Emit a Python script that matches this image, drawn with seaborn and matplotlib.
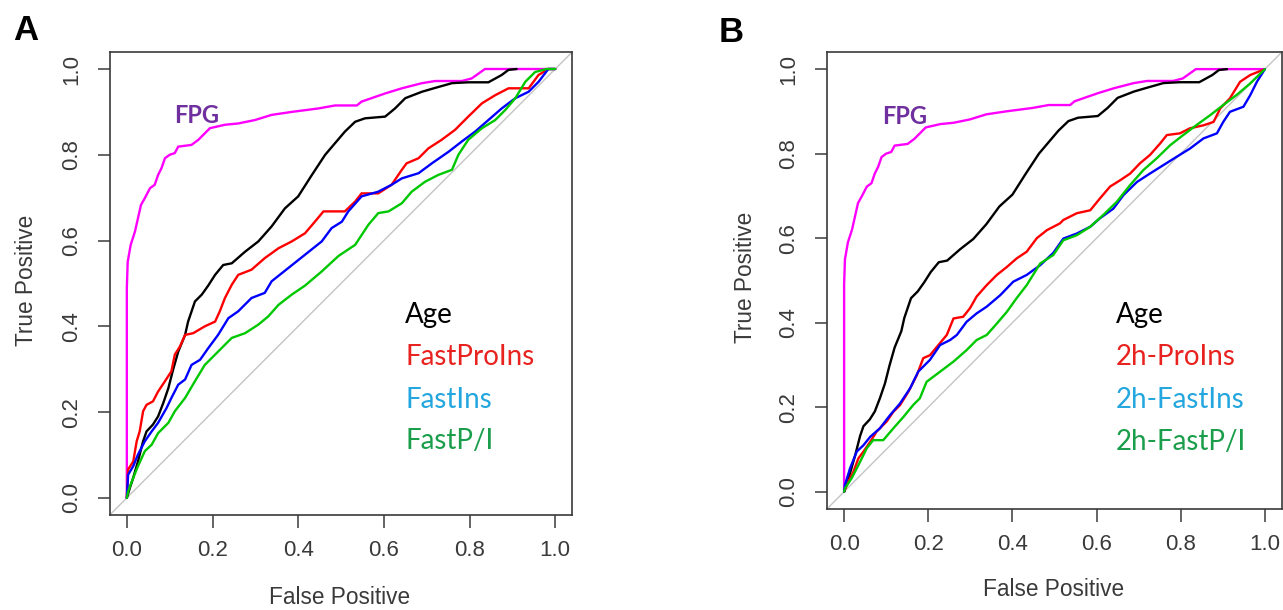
import numpy as np
import pandas as pd
import matplotlib
matplotlib.use("Agg")
import matplotlib.pyplot as plt
import seaborn as sns

# ---- ROC coordinates (false positive rate, true positive rate) ----
fpg_fp = [0, 0, 0.002, 0.009, 0.019, 0.026, 0.033, 0.042, 0.054, 0.065, 0.073, 0.081,
          0.089, 0.100, 0.112, 0.120, 0.151, 0.167, 0.182, 0.194, 0.229, 0.26, 0.299,
          0.338, 0.385, 0.447, 0.486, 0.537, 0.548, 0.603, 0.642, 0.689, 0.72, 0.782,
          0.805, 0.836, 1.0]
fpg_tp = [0, 0.49, 0.55, 0.59, 0.621, 0.652, 0.683, 0.699, 0.722, 0.730, 0.753, 0.769,
          0.792, 0.800, 0.804, 0.819, 0.823, 0.835, 0.850, 0.862, 0.870, 0.873, 0.881,
          0.893, 0.900, 0.908, 0.915, 0.915, 0.924, 0.943, 0.955, 0.967, 0.972, 0.972,
          0.978, 1.0, 1.0]

age_fp = [0, 0.007, 0.015, 0.026, 0.038, 0.046, 0.061, 0.073, 0.085, 0.097, 0.108, 0.120,
          0.136, 0.143, 0.159, 0.175, 0.19, 0.206, 0.225, 0.245, 0.276, 0.307, 0.338,
          0.369, 0.40, 0.432, 0.463, 0.486, 0.509, 0.533, 0.556, 0.603, 0.626, 0.65,
          0.689, 0.72, 0.759, 0.797, 0.844, 0.875, 0.891, 0.91]
age_tp = [0, 0.023, 0.047, 0.085, 0.132, 0.155, 0.171, 0.19, 0.221, 0.256, 0.299, 0.341,
          0.380, 0.411, 0.458, 0.474, 0.495, 0.520, 0.543, 0.547, 0.574, 0.598, 0.633,
          0.675, 0.703, 0.753, 0.800, 0.827, 0.854, 0.877, 0.885, 0.889, 0.908, 0.932,
          0.947, 0.956, 0.967, 0.969, 0.969, 0.986, 0.998, 1.0]

fastproins_fp = [0, 0.003, 0.015, 0.023, 0.030, 0.038, 0.046, 0.061, 0.073, 0.089, 0.104,
                 0.112, 0.124, 0.136, 0.155, 0.182, 0.206, 0.217, 0.229, 0.245, 0.26, 0.291,
                 0.322, 0.354, 0.385, 0.416, 0.439, 0.459, 0.509, 0.533, 0.548, 0.587, 0.618,
                 0.642, 0.653, 0.681, 0.704, 0.735, 0.766, 0.797, 0.829, 0.86, 0.891, 0.938,
                 0.961, 0.984, 1.0]
fastproins_tp = [0, 0.066, 0.085, 0.132, 0.155, 0.202, 0.217, 0.225, 0.248, 0.272, 0.295,
                 0.334, 0.353, 0.380, 0.384, 0.400, 0.411, 0.435, 0.466, 0.497, 0.520, 0.532,
                 0.559, 0.582, 0.598, 0.617, 0.644, 0.668, 0.668, 0.691, 0.710, 0.710, 0.730,
                 0.765, 0.780, 0.792, 0.815, 0.835, 0.858, 0.889, 0.920, 0.939, 0.955, 0.955,
                 0.986, 1.0, 1.0]

fastins_fp = [0, 0.003, 0.015, 0.026, 0.042, 0.058, 0.073, 0.093, 0.104, 0.120, 0.136, 0.151,
              0.171, 0.190, 0.213, 0.237, 0.26, 0.291, 0.322, 0.338, 0.377, 0.416, 0.455,
              0.478, 0.502, 0.517, 0.548, 0.587, 0.618, 0.642, 0.681, 0.712, 0.751, 0.782,
              0.813, 0.844, 0.875, 0.907, 0.938, 0.961, 0.984, 1.0]
fastins_tp = [0, 0.054, 0.074, 0.101, 0.132, 0.155, 0.175, 0.21, 0.233, 0.264, 0.276, 0.310,
              0.322, 0.349, 0.380, 0.419, 0.435, 0.466, 0.478, 0.505, 0.536, 0.567, 0.598,
              0.629, 0.644, 0.668, 0.703, 0.714, 0.730, 0.745, 0.757, 0.780, 0.807, 0.831,
              0.854, 0.881, 0.908, 0.932, 0.947, 0.970, 1.0, 1.0]

fastpi_fp = [0, 0.003, 0.015, 0.026, 0.042, 0.058, 0.073, 0.097, 0.112, 0.136, 0.159, 0.182,
             0.213, 0.245, 0.276, 0.307, 0.330, 0.354, 0.385, 0.416, 0.455, 0.494, 0.533,
             0.564, 0.587, 0.611, 0.642, 0.665, 0.696, 0.727, 0.759, 0.774, 0.797, 0.829,
             0.86, 0.883, 0.907, 0.93, 0.953, 0.98, 1.0]
fastpi_tp = [0, 0.015, 0.047, 0.074, 0.109, 0.124, 0.151, 0.175, 0.202, 0.233, 0.272, 0.310,
             0.341, 0.373, 0.384, 0.404, 0.423, 0.450, 0.474, 0.495, 0.528, 0.564, 0.590,
             0.637, 0.664, 0.668, 0.687, 0.714, 0.737, 0.753, 0.765, 0.800, 0.835, 0.862,
             0.881, 0.904, 0.932, 0.970, 0.993, 1.0, 1.0]

proins2h_fp = [0, 0.01, 0.022, 0.034, 0.046, 0.062, 0.077, 0.101, 0.117, 0.133, 0.153, 0.173,
               0.188, 0.204, 0.224, 0.244, 0.26, 0.283, 0.299, 0.315, 0.339, 0.363, 0.387,
               0.41, 0.434, 0.458, 0.482, 0.513, 0.521, 0.553, 0.585, 0.608, 0.632, 0.656,
               0.680, 0.703, 0.727, 0.751, 0.767, 0.798, 0.822, 0.854, 0.878, 0.894, 0.917,
               0.941, 0.965, 1.0]
proins2h_tp = [0, 0.024, 0.047, 0.079, 0.095, 0.118, 0.142, 0.166, 0.189, 0.205, 0.237, 0.276,
               0.316, 0.323, 0.347, 0.371, 0.410, 0.414, 0.434, 0.462, 0.489, 0.513, 0.532,
               0.552, 0.568, 0.600, 0.619, 0.635, 0.643, 0.659, 0.666, 0.694, 0.722, 0.737,
               0.753, 0.777, 0.797, 0.824, 0.844, 0.848, 0.860, 0.867, 0.875, 0.907, 0.931,
               0.970, 0.986, 1.0]

fastins2h_fp = [0, 0.002, 0.014, 0.030, 0.046, 0.062, 0.085, 0.109, 0.133, 0.157, 0.176,
                0.204, 0.228, 0.252, 0.268, 0.291, 0.315, 0.339, 0.371, 0.402, 0.434, 0.466,
                0.497, 0.521, 0.553, 0.585, 0.608, 0.640, 0.664, 0.696, 0.727, 0.759, 0.791,
                0.822, 0.854, 0.886, 0.901, 0.917, 0.949, 0.965, 0.981, 1.0]
fastins2h_tp = [0, 0.016, 0.055, 0.095, 0.110, 0.130, 0.150, 0.181, 0.209, 0.245, 0.284,
                0.312, 0.347, 0.359, 0.371, 0.402, 0.422, 0.438, 0.465, 0.497, 0.513, 0.536,
                0.565, 0.599, 0.611, 0.627, 0.647, 0.670, 0.702, 0.733, 0.753, 0.773, 0.793,
                0.812, 0.836, 0.848, 0.875, 0.899, 0.911, 0.938, 0.970, 1.0]

fastpi2h_fp = [0, 0.002, 0.018, 0.034, 0.054, 0.069, 0.093, 0.117, 0.141, 0.164, 0.180,
               0.196, 0.228, 0.260, 0.291, 0.315, 0.339, 0.363, 0.387, 0.410, 0.434, 0.466,
               0.497, 0.521, 0.553, 0.585, 0.616, 0.648, 0.680, 0.711, 0.743, 0.775, 0.806,
               0.838, 0.870, 0.901, 0.933, 0.965, 1.0]
fastpi2h_tp = [0, 0.008, 0.032, 0.063, 0.103, 0.122, 0.122, 0.150, 0.177, 0.205, 0.221,
               0.260, 0.284, 0.308, 0.335, 0.359, 0.371, 0.398, 0.426, 0.458, 0.489, 0.540,
               0.560, 0.595, 0.607, 0.627, 0.655, 0.686, 0.726, 0.761, 0.789, 0.820, 0.844,
               0.868, 0.891, 0.915, 0.939, 0.966, 1.0]

panel_a_names = ["FPG", "Age", "FastProIns", "FastIns", "FastP/I"]
panel_b_names = ["FPG", "Age", "2h-ProIns", "2h-FastIns", "2h-FastP/I"]
tick_values = [0.0, 0.2, 0.4, 0.6, 0.8, 1.0]
tick_labels = ["0.0", "0.2", "0.4", "0.6", "0.8", "1.0"]

line_colors = ["#FF00FF", "#000000", "#FF0000", "#0000FF", "#00C800"]
text_colors = ["#000000", "#E8231F", "#24A6DE", "#1B9E4B"]
fpg_color = "#6F2F9F"
frame_color = "#3A3A3A"
label_color = "#3A3A3A"

sns.set_theme(style="ticks")
plt.rcParams["font.family"] = ["Liberation Sans", "DejaVu Sans"]

fig = plt.figure(figsize=(12.83, 6.10), dpi=100)
ax_a = fig.add_axes([0.0855, 0.1557, 0.3606, 0.7593])
ax_b = fig.add_axes([0.6448, 0.1662, 0.3542, 0.7482])


def build_frame(names, series):
    rows = []
    for name, (fp, tp) in zip(names, series):
        rows.append(pd.DataFrame({"fp": fp, "tp": tp, "marker": name}))
    return pd.concat(rows, ignore_index=True)


def draw_panel(ax, names, series, fpg_pos, text_x, text_ys, letter, letter_pos):
    df = build_frame(names, series)
    ax.axline((0, 0), (1, 1), color="#C4C4C4", lw=1.0, zorder=1)
    sns.lineplot(data=df, x="fp", y="tp", hue="marker", hue_order=names,
                 palette=dict(zip(names, line_colors)),
                 estimator=None, sort=False, legend=False, lw=1.7, ax=ax, zorder=2)
    ax.set_xlim(-0.04, 1.04)
    ax.set_ylim(-0.04, 1.04)
    ax.set_xticks(tick_values, tick_labels)
    ax.set_yticks(tick_values, tick_labels)
    ax.tick_params(axis="both", direction="out", length=9, width=1.1,
                   color=frame_color, labelsize=16, labelcolor=label_color)
    ax.tick_params(axis="x", pad=9)
    ax.tick_params(axis="y", pad=11, labelrotation=90)
    for t in ax.get_yticklabels():
        t.set_va("center")
    for sp in ax.spines.values():
        sp.set_visible(True)
        sp.set_color(frame_color)
        sp.set_linewidth(1.2)
    ax.set_xlabel("False Positive", fontsize=16.3, color=label_color, va="center")
    ax.set_ylabel("True Positive", fontsize=16.3, color=label_color, va="center")
    ax.xaxis.set_label_coords(0.497, -0.178)
    ax.yaxis.set_label_coords(-0.179, 0.507)

    ax.text(fpg_pos[0], fpg_pos[1], "FPG", color=fpg_color, fontsize=17,
            fontweight="bold", family=["Lato", "DejaVu Sans"], ha="center", va="center")
    for name, ty, col in zip(names[1:], text_ys, text_colors):
        ax.text(text_x, ty, name, color=col, fontsize=20, family=["Lato", "DejaVu Sans"],
                ha="left", va="baseline")
    fig.text(letter_pos[0], letter_pos[1], letter, fontsize=25, fontweight="bold",
             ha="center", va="baseline", color="#000000")


series_a = [(fpg_fp, fpg_tp), (age_fp, age_tp), (fastproins_fp, fastproins_tp),
            (fastins_fp, fastins_tp), (fastpi_fp, fastpi_tp)]
series_b = [(fpg_fp, fpg_tp), (age_fp, age_tp), (proins2h_fp, proins2h_tp),
            (fastins2h_fp, fastins2h_tp), (fastpi2h_fp, fastpi2h_tp)]

draw_panel(ax_a, panel_a_names, series_a, (0.164, 0.892), 0.650,
           [0.408, 0.310, 0.210, 0.113], "A", (25.5 / 1283, 1 - 40 / 610))
draw_panel(ax_b, panel_b_names, series_b, (0.145, 0.889), 0.646,
           [0.399, 0.300, 0.198, 0.098], "B", (731 / 1283, 1 - 42 / 610))

fig.savefig("out.png", dpi=100)
